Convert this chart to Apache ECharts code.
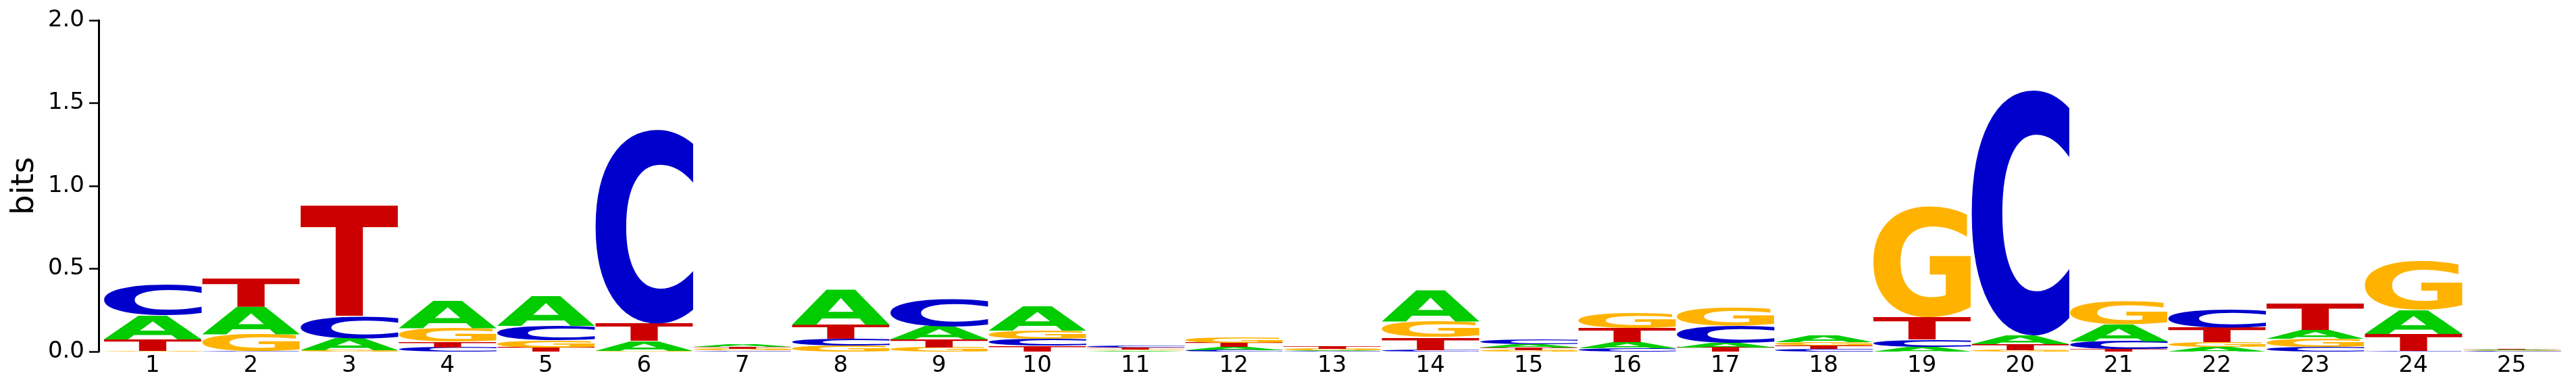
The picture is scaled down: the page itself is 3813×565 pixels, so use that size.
<!DOCTYPE html>
<html>
<head>
<meta charset="utf-8">
<script src="https://cdn.jsdelivr.net/npm/echarts@6/dist/echarts.min.js"></script>
<style>
html,body{margin:0;padding:0;background:#fff;}
#chart{width:3813px;height:565px;}
</style>
</head>
<body>
<div id="chart"></div>
<script>
// Positions (x categories)
const positions = ['1','2','3','4','5','6','7','8','9','10','11','12','13','14','15','16','17','18','19','20','21','22','23','24','25'];
// Letter heights in bits, per position
const bitsA = [0.145,0.162,0.072,0.165,0.180,0.059,0.015,0.214,0.077,0.147,0.006,0.018,0.006,0.184,0.018,0.037,0.027,0.044,0.027,0.052,0.103,0.027,0.052,0.144,0.005];
const bitsC = [0.180,0.004,0.130,0.026,0.088,1.174,0.007,0.041,0.165,0.044,0.011,0.009,0.004,0.009,0.027,0.019,0.105,0.016,0.044,1.485,0.047,0.108,0.029,0.004,0.003];
const bitsG = [0.005,0.103,0.008,0.085,0.043,0.004,0.009,0.037,0.026,0.049,0.007,0.031,0.008,0.099,0.009,0.094,0.109,0.022,0.670,0.009,0.135,0.029,0.049,0.293,0.004];
const bitsT = [0.070,0.171,0.670,0.032,0.024,0.105,0.012,0.084,0.049,0.034,0.010,0.025,0.014,0.077,0.017,0.085,0.024,0.019,0.135,0.035,0.016,0.088,0.158,0.103,0.007];
// Y axis ticks
const yTicks = [0, 0.5, 1.0, 1.5, 2.0];

const letters = ['A','C','G','T'];
const letterColors = ['#00CC00','#0000CC','#FFB300','#CC0000'];
const bitsByLetter = [bitsA, bitsC, bitsG, bitsT];

// Build stacked data: smallest at bottom, largest on top
const stackData = [];
positions.forEach((p, i) => {
  const items = letters.map((l, li) => ({li, h: bitsByLetter[li][i]}));
  items.sort((a, b) => a.h - b.h);
  let base = 0;
  items.forEach(it => {
    stackData.push([i, base, base + it.h, it.li]);
    base += it.h;
  });
});

// Measure glyph ink boxes so each letter fills its rectangle
const glyphFont = 'bold 200px "DejaVu Sans"';
const mctx = document.createElement('canvas').getContext('2d');
mctx.font = glyphFont;
mctx.textBaseline = 'middle';
mctx.textAlign = 'left';
const metrics = letters.map(l => {
  const m = mctx.measureText(l);
  return {L: m.actualBoundingBoxLeft, R: m.actualBoundingBoxRight, A: m.actualBoundingBoxAscent, D: m.actualBoundingBoxDescent};
});

function renderItem(params, api) {
  const idx = api.value(0), y0 = api.value(1), y1 = api.value(2), li = api.value(3);
  const band = api.size([1, 0])[0];
  const pb = api.coord([idx, y0]);
  const pt = api.coord([idx, y1]);
  const h = pb[1] - pt[1];
  if (h <= 0.05) return null;
  const m = metrics[li];
  const inkW = m.L + m.R, inkH = m.A + m.D;
  return {
    type: 'text',
    x: pb[0] - band / 2,
    y: pt[1],
    scaleX: band / inkW,
    scaleY: h / inkH,
    style: {
      text: letters[li],
      x: m.L,
      y: m.A,
      font: glyphFont,
      fill: letterColors[li],
      align: 'left',
      verticalAlign: 'middle'
    }
  };
}

const chart = echarts.init(document.getElementById('chart'), null, {renderer: 'canvas'});
chart.setOption({
  backgroundColor: '#ffffff',
  animation: false,
  grid: {left: 153, right: 22.5, top: 30, bottom: 45},
  xAxis: {
    type: 'category',
    data: positions,
    boundaryGap: true,
    axisLine: {show: false},
    axisTick: {show: false},
    axisLabel: {color: '#000', fontFamily: 'DejaVu Sans', fontSize: 34, margin: 4},
    splitLine: {show: false}
  },
  yAxis: {
    type: 'value',
    min: yTicks[0],
    max: yTicks[yTicks.length - 1],
    interval: 0.5,
    offset: 7,
    name: 'bits',
    nameLocation: 'middle',
    nameRotate: 90,
    nameGap: 84,
    nameTextStyle: {color: '#000', fontFamily: 'DejaVu Sans', fontSize: 47},
    axisLine: {show: true, lineStyle: {color: '#000', width: 3}},
    axisTick: {show: true, length: 14, lineStyle: {color: '#000', width: 2.5}},
    axisLabel: {color: '#000', fontFamily: 'DejaVu Sans', fontSize: 34, margin: 21, formatter: v => v.toFixed(1)},
    splitLine: {show: false}
  },
  series: [{
    type: 'custom',
    renderItem: renderItem,
    data: stackData,
    encode: {x: 0, y: [1, 2]},
    clip: false
  }]
});
</script>
</body>
</html>
